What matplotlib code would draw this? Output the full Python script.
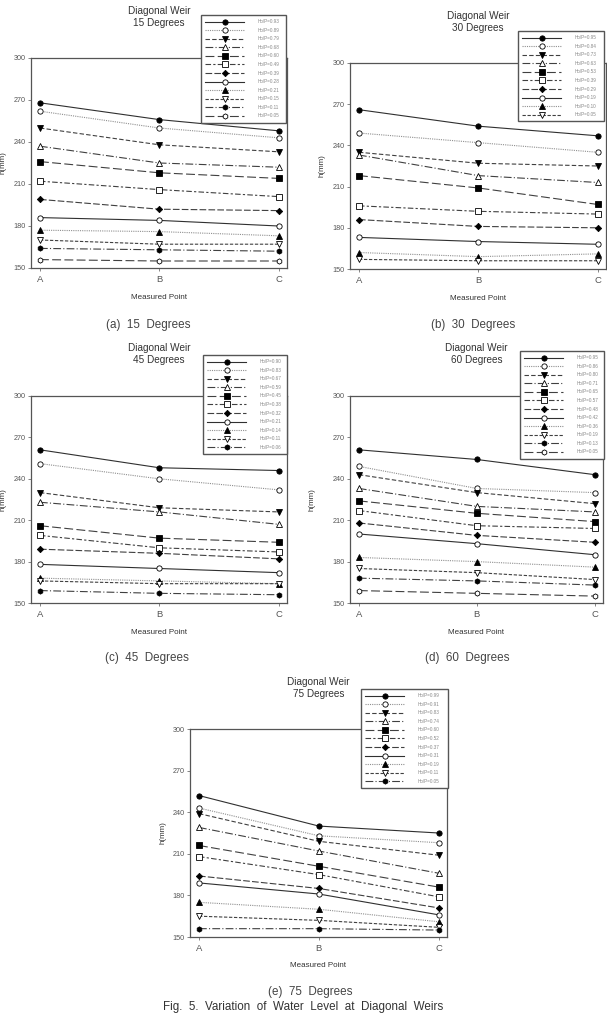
import numpy as np
import matplotlib
matplotlib.use("Agg")
import matplotlib.pyplot as plt

# measured points along the weir
points = ['A', 'B', 'C']

# (a) 15 degrees
ho_p_15 = ['0.93', '0.89', '0.79', '0.68', '0.60', '0.49', '0.39', '0.28', '0.21', '0.15', '0.11', '0.05']
h_15 = [[268, 256, 248], [262, 250, 243], [250, 238, 233], [237, 225, 222],
        [226, 218, 214], [212, 206, 201], [199, 192, 191], [186, 184, 180],
        [177, 176, 173], [170, 167, 167], [164, 163, 162], [156, 155, 155]]

# (b) 30 degrees
ho_p_30 = ['0.95', '0.84', '0.73', '0.63', '0.53', '0.39', '0.29', '0.19', '0.10', '0.05']
h_30 = [[266, 254, 247], [249, 242, 235], [235, 227, 225], [233, 218, 213],
        [218, 209, 197], [196, 192, 190], [186, 181, 180], [173, 170, 168],
        [162, 159, 161], [157, 156, 156]]

# (c) 45 degrees
ho_p_45 = ['0.90', '0.83', '0.67', '0.59', '0.45', '0.38', '0.32', '0.21', '0.14', '0.11', '0.06']
h_45 = [[261, 248, 246], [251, 240, 232], [230, 219, 216], [223, 216, 207],
        [206, 197, 194], [199, 190, 187], [189, 186, 182], [178, 175, 172],
        [168, 166, 164], [166, 164, 164], [159, 157, 156]]

# (d) 60 degrees
ho_p_60 = ['0.95', '0.86', '0.80', '0.71', '0.65', '0.57', '0.48', '0.42', '0.36', '0.19', '0.13', '0.05']
h_60 = [[261, 254, 243], [249, 233, 230], [243, 230, 222], [233, 220, 216],
        [224, 215, 209], [217, 206, 204], [208, 199, 194], [200, 193, 185],
        [183, 180, 176], [175, 172, 167], [168, 166, 163], [159, 157, 155]]

# (e) 75 degrees
ho_p_75 = ['0.99', '0.91', '0.83', '0.74', '0.60', '0.52', '0.37', '0.31', '0.19', '0.11', '0.05']
h_75 = [[252, 230, 225], [243, 223, 218], [239, 219, 209], [229, 212, 196],
        [216, 201, 186], [208, 195, 179], [194, 185, 171], [189, 181, 166],
        [175, 170, 161], [165, 162, 157], [156, 156, 155]]

yticks = [150, 180, 210, 240, 270, 300]

# SigmaPlot-like symbol / line cycle (marker, filled, linestyle, colour)
styles = [
    ('o', True, '-', '#303030'),
    ('o', False, (0, (1, 1)), '#909090'),
    ('v', True, (0, (4, 2)), '#404040'),
    ('^', False, (0, (7, 2, 1, 2)), '#404040'),
    ('s', True, (0, (8, 3)), '#404040'),
    ('s', False, (0, (5, 2, 2, 2)), '#404040'),
    ('D', True, (0, (6, 2)), '#404040'),
    ('o', False, '-', '#303030'),
    ('^', True, (0, (1, 1)), '#909090'),
    ('v', False, (0, (3, 1.5)), '#404040'),
    ('h', True, (0, (7, 2, 1, 2)), '#404040'),
    ('h', False, (0, (8, 3)), '#404040'),
]

W, H = 607, 1021
fig = plt.figure(figsize=(W / 100, H / 100), dpi=100)
plt.rcParams['font.family'] = ['Liberation Sans', 'DejaVu Sans']


def fx(px):
    return px / W


def fy(py):
    return 1 - py / H


def panel(ax_box, leg_box, title_y, xlab_y, ylab_x, labels, data, title, caption, cap_xy):
    x0, y0, x1, y1 = ax_box
    ax = fig.add_axes([fx(x0), fy(y1), fx(x1 - x0), (y1 - y0) / H])
    x = np.arange(len(points))
    for i, (lab, vals) in enumerate(zip(labels, data)):
        m, filled, ls, col = styles[i]
        ax.plot(x, vals, linestyle=ls, color=col, linewidth=0.8,
                marker=m, markersize=3.8 if m != 'D' else 3.2,
                markerfacecolor='black' if filled else 'white',
                markeredgecolor='black', markeredgewidth=0.6,
                label='Ho/P=' + lab)
    ax.set_xlim(-0.075, 2.07)
    ax.set_ylim(150, 300)
    ax.set_xticks(x)
    ax.set_xticklabels(points)
    ax.set_yticks(yticks)
    ax.tick_params(axis='both', labelsize=5.2, colors='#555555', length=2, width=0.5,
                   direction='out', pad=2)
    ax.tick_params(axis='x', labelsize=6.8, pad=3)
    for s in ax.spines.values():
        s.set_color('#555555')
        s.set_linewidth(0.9)

    cx = fx((x0 + x1) / 2)
    fig.text(cx, fy(title_y), 'Diagonal Weir\n' + title, ha='center', va='center',
             fontsize=7.2, color='#333333', linespacing=1.35)
    fig.text(cx, fy(xlab_y), 'Measured Point', ha='center', va='center',
             fontsize=5.8, color='#333333')
    fig.text(fx(ylab_x), fy((y0 + y1) / 2), 'h(mm)', ha='center', va='center',
             rotation=90, fontsize=5.8, color='#333333')
    fig.text(fx(cap_xy[0]), fy(cap_xy[1]), caption, ha='center', va='center',
             fontsize=8.4, color='#444444')

    lx0, ly0, lx1, ly1 = leg_box
    leg = ax.legend(bbox_to_anchor=(fx(lx0), fy(ly1), fx(lx1 - lx0), (ly1 - ly0) / H),
                    bbox_transform=fig.transFigure, loc='upper left', mode='expand',
                    borderaxespad=0, fontsize=3.3, handlelength=8.5, handletextpad=3.0,
                    labelspacing=0.78, borderpad=0.9, numpoints=1, fancybox=False,
                    framealpha=1, labelcolor='#888888')
    leg.get_frame().set_edgecolor('#555555')
    leg.get_frame().set_linewidth(1.0)
    return ax


panel((31, 58, 287, 268), (201, 15, 286, 123), 17, 297, 3,
      ho_p_15, h_15, '15 Degrees', '(a)  15  Degrees', (148, 325))
panel((350, 63, 606, 269), (518, 31, 604, 120), 22, 298, 322,
      ho_p_30, h_30, '30 Degrees', '(b)  30  Degrees', (473, 325))
panel((31, 396, 287, 603), (203, 355, 287, 453), 354, 632, 3,
      ho_p_45, h_45, '45 Degrees', '(c)  45  Degrees', (147, 658))
panel((350, 396, 603, 603), (520, 351, 604, 457), 354, 632, 312,
      ho_p_60, h_60, '60 Degrees', '(d)  60  Degrees', (467, 658))
panel((190, 729, 447, 937), (361, 689, 448, 788), 688, 965, 163,
      ho_p_75, h_75, '75 Degrees', '(e)  75  Degrees', (310, 992))

fig.text(fx(303), fy(1007), 'Fig.  5.  Variation  of  Water  Level  at  Diagonal  Weirs',
         ha='center', va='center', fontsize=8.4, color='#333333')

fig.savefig('out.png', dpi=100)
